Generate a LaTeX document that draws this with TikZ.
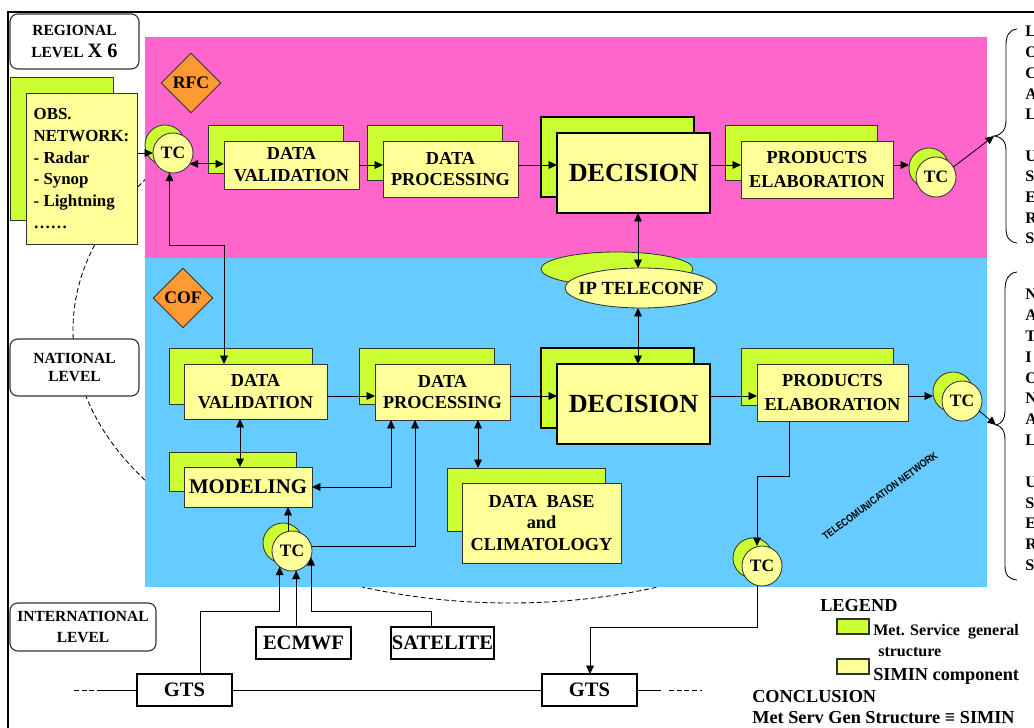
\documentclass[tikz,border=0pt]{standalone}
\usepackage{fontspec}
\setmainfont{Liberation Serif}
\newfontfamily\arialf{Liberation Sans}
\usetikzlibrary{arrows.meta,shapes.geometric}
\definecolor{lime}{HTML}{CCFF33}
\definecolor{paley}{HTML}{FFFF99}
\definecolor{pinkbg}{HTML}{FF66CC}
\definecolor{bluebg}{HTML}{66CCFF}
\definecolor{orng}{HTML}{FF9933}
\definecolor{edge}{HTML}{333333}
\newcommand\fsz[2]{\fontsize{#1}{#2}\selectfont\bfseries}
\newcommand\rnode[6]{\node[#1,minimum width={(#5-#3)*0.025cm},minimum height={(#6-#4)*0.025cm}] (#2) at ({(#3+#5)/2},{(#4+#6)/2})}
\tikzset{
  gb/.style={draw=edge, fill=lime, line width=0.6pt, inner sep=0pt, outer sep=0pt},
  yb/.style={draw=edge, fill=paley, line width=0.6pt, inner sep=0pt, outer sep=0pt, align=center, font=\fsz{13pt}{15.5pt}},
  thickb/.style={draw=black, line width=2pt},
  cb/.style={circle, draw=edge, fill=lime, line width=0.6pt, minimum size=1cm, inner sep=0pt, outer sep=0pt},
  cy/.style={circle, draw=edge, fill=paley, line width=0.6pt, minimum size=1cm, inner sep=0pt, outer sep=0pt, font=\fsz{12.4pt}{14pt}},
  wb/.style={draw=black, fill=white, line width=0.8pt, inner sep=0pt, outer sep=0pt, font=\fsz{14.6pt}{16pt}},
  lvl/.style={draw=black!80, fill=white, rounded corners=5.5pt, line width=0.8pt, align=center, inner sep=0pt},
  dia/.style={diamond, draw=edge, fill=orng, line width=0.6pt, minimum width=1.5cm, minimum height=1.5cm, inner sep=0pt, font=\fsz{12.6pt}{14pt}},
  arr/.style={-{Triangle[length=6pt,width=5.5pt]}, line width=0.6pt, draw=black},
  darr/.style={{Triangle[length=6pt,width=5.5pt]}-{Triangle[length=6pt,width=5.5pt]}, line width=0.6pt, draw=black},
  dashln/.style={dash pattern=on 3.5pt off 2pt, line width=0.6pt},
  txt/.style={inner sep=0pt, anchor=base west}
}
\begin{document}
\begin{tikzpicture}[x=0.025cm,y=-0.025cm]
\useasboundingbox (0,0) rectangle (1034,728);
% national dashed outline
\draw[dashln] (510,330) ellipse [x radius=437, y radius=273];
% panels
\fill[pinkbg] (145,37) rectangle (987,258);
\fill[bluebg] (145,258) rectangle (987,587);
% frame
\draw[line width=1.4pt] (8,728) -- (8,12) -- (1034,12);
% level labels
\rnode{lvl,font=\fsz{11pt}{16pt}}{reg}{10}{14}{139}{69}{REGIONAL\\LEVEL {\fontsize{14.5pt}{16pt}\selectfont X 6}};
\rnode{lvl,font=\fsz{11pt}{13.5pt}}{nat}{10}{339}{139}{396}{NATIONAL\\LEVEL};
\rnode{lvl,font=\fsz{11pt}{15pt}}{intl}{10}{603}{156}{651}{INTERNATIONAL\\LEVEL};
% obs network
\rnode{gb}{obsb}{10}{77}{113}{220}{};
\rnode{yb,align=left,font=\fsz{12pt}{15.4pt}}{obs}{26}{93}{137}{244}{OBS.\\NETWORK:\\- Radar\\- Synop\\- Lightning\\……};
% diamonds
\node[dia] (rfc) at (191,83) {RFC};
\node[dia] (cof) at (183,298) {COF};
% regional chain
\rnode{gb}{rdvb}{208}{125}{343}{173}{};
\rnode{yb}{rdv}{224}{141}{359}{189}{DATA\\VALIDATION};
\rnode{gb}{rdpb}{367}{125}{502}{180}{};
\rnode{yb}{rdp}{383}{141}{518}{197}{DATA\\PROCESSING};
\rnode{gb,thickb}{rdecb}{541}{117}{694}{197}{};
\rnode{yb,thickb,font=\fsz{18.6pt}{20pt}}{rdec}{557}{133}{710}{213}{DECISION};
\rnode{gb}{rpeb}{725}{125}{877}{180}{};
\rnode{yb,font=\fsz{13pt}{16.5pt}}{rpe}{741}{141}{893}{198}{PRODUCTS\\ELABORATION};
% national chain
\rnode{gb}{ndvb}{169}{348}{312}{404}{};
\rnode{yb}{ndv}{184}{364}{327}{419}{DATA\\VALIDATION};
\rnode{gb}{ndpb}{359}{348}{494}{404}{};
\rnode{yb}{ndp}{375}{364}{510}{420}{DATA\\PROCESSING};
\rnode{gb,thickb}{ndecb}{541}{348}{694}{428}{};
\rnode{yb,thickb,font=\fsz{18.6pt}{20pt}}{ndec}{557}{364}{710}{444}{DECISION};
\rnode{gb}{npeb}{741}{348}{893}{405}{};
\rnode{yb,font=\fsz{13pt}{16.5pt}}{npe}{757}{364}{908}{421}{PRODUCTS\\ELABORATION};
\rnode{gb}{modb}{169}{452}{296}{491}{};
\rnode{yb,font=\fsz{14.8pt}{16pt}}{mod}{184}{467}{312}{507}{MODELING};
\rnode{gb}{ndbb}{447}{468}{605}{531}{};
\rnode{yb,font=\fsz{13pt}{15.6pt}}{ndb}{462}{483}{621}{563}{DATA\ \ BASE\\and\\CLIMATOLOGY};
% IP teleconf
\node[ellipse, gb, minimum width=3.8cm, minimum height=0.85cm] (ipb) at (617,269) {};
\node[ellipse, yb, minimum width=3.8cm, minimum height=1cm, font=\fsz{13.2pt}{15pt}] (ip) at (641,288) {\makebox[0pt]{IP TELECONF}};
% TC circles
\node[cb] (tc1b) at (165,145) {}; \node[cy] (tc1) at (173,153) {TC};
\node[cb] (tc2b) at (929,168) {}; \node[cy] (tc2) at (936,177) {TC};
\node[cb] (ntcb) at (953,392) {}; \node[cy] (ntc) at (962,401) {TC};
\node[cb] (tc3b) at (753,558) {}; \node[cy] (tc3) at (762,566) {TC};
\node[cb] (tc4b) at (283,543) {}; \node[cy] (tc4) at (292,551) {TC};
% international boxes
\rnode{wb}{ecm}{256}{627}{351}{659}{ECMWF};
\rnode{wb}{sat}{391}{627}{494}{659}{SATELITE};
\rnode{wb}{gts1}{137}{674}{232}{706}{GTS};
\rnode{wb}{gts2}{542}{674}{637}{706}{GTS};
% helper coordinates
\coordinate (k10) at (224,245);
\coordinate (xip) at (638,0);
\coordinate (ny) at (0,396);
\coordinate (xa) at (240,0);
\coordinate (xb) at (391,0);
\coordinate (xc) at (288,0);
\coordinate (xd) at (415,0);
\coordinate (xe) at (478,0);
\coordinate (k1) at (789,476);
\coordinate (k2) at (757,476);
\coordinate (k3) at (757,627);
\coordinate (k4) at (590,627);
\coordinate (k5) at (200,611);
\coordinate (k8) at (431,611);
\coordinate (br1) at (994,136);
\coordinate (br2) at (996,425);
\coordinate (l1) at (102,690);
\coordinate (l2) at (73,690);
\coordinate (r1) at (661,690);
\coordinate (r2) at (669,690);
\coordinate (r3) at (702,690);
% regional connectors
\draw[arr] (obs.east |- tc1.west) -- (tc1.west);
\draw[darr] (tc1.-33) -- (tc1.-33 -| rdv.west);
\draw[arr] (rdv.east) -- (rdv.east -| rdp.west);
\draw[arr] (rdp.east |- rdv.east) -- (rdv.east -| rdec.west);
\draw[arr] (rdec.east |- rdv.east) -- (rdv.east -| rpe.west);
\draw[arr] (rpe.east |- rdv.east) -- (rdv.east -| tc2b.west);
\draw[arr] (tc2.30) -- (br1);
\draw[darr] (tc1.-100) -- (tc1.-100 |- k10) -- (k10) -- (k10 |- ndv.north);
\draw[darr] (rdec.south -| xip) -- (ip.north -| xip);
\draw[darr] (ip.south -| xip) -- (ndec.north -| xip);
% national connectors
\draw[arr] (ndv.east |- ny) -- (ndp.west |- ny);
\draw[arr] (ndp.east |- ny) -- (ndec.west |- ny);
\draw[arr] (ndec.east |- ny) -- (npe.west |- ny);
\draw[arr] (npe.east |- ny) -- (ntcb.west |- ny);
\draw[arr] (ntc.-30) -- (br2);
\draw[darr] (ndv.south -| xa) -- (mod.north -| xa);
\draw[darr] (ndp.south -| xb) |- (mod.east);
\draw[arr] (tc4.north -| xc) -- (mod.south -| xc);
\draw[arr] (tc4.12) -| (ndp.south -| xd);
\draw[darr] (ndp.south -| xe) -- (ndbb.north -| xe);
\draw[arr] (npe.south -| k1) -- (k1) -- (k2) -- (k2 |- tc3.north);
% international connectors
\draw[arr] (tc3.south -| k3) -- (k3) -- (k4) -- (k4 |- gts2.north);
\draw[arr] (k5 |- gts1.north) -- (k5) -- (k5 -| tc4.-128) -- (tc4.-128);
\draw[arr] (ecm.north -| tc4.-78) -- (tc4.-78);
\draw[arr] (k8 |- sat.north) -- (k8) -- (k8 -| tc4.-18) -- (tc4.-18);
\draw[line width=0.6pt] (gts1.east) -- (gts2.west);
\draw[line width=0.6pt] (gts1.west) -- (l1);
\draw[dashln] (l1) -- (l2);
\draw[line width=0.6pt] (gts2.east) -- (r1);
\draw[dashln] (r2) -- (r3);
% braces
\draw[line width=0.6pt] (1017,29) .. controls (1009,30) and (1006,36) .. (1006,45) -- (1006,120) .. controls (1006,130) and (1002,135) .. (br1) .. controls (1002,137) and (1006,141) .. (1006,151) -- (1006,228) .. controls (1006,237) and (1009,242) .. (1017,243);
\draw[line width=0.6pt] (1017,272) .. controls (1008,273) and (1005,280) .. (1005,290) -- (1005,410) .. controls (1005,420) and (1001,424) .. (br2) .. controls (1001,426) and (1005,430) .. (1005,440) -- (1005,565) .. controls (1005,575) and (1008,579) .. (1017,580);
\foreach \ch [count=\i from 0] in {L,O,C,A,L,{},U,S,E,R,S}
  \node[txt, font=\fsz{11.5pt}{14pt}] (lu\i) at (1025,{37+\i*20.7}) {\ch};
\foreach \ch [count=\i from 0] in {N,A,T,I,O,N,A,L,{},U,S,E,R,S}
  \node[txt, font=\fsz{11.5pt}{14pt}] (nu\i) at (1025,{300+\i*20.8}) {\ch};
% telecommunication label
\node[rotate=36.5, inner sep=0pt, font=\arialf\bfseries\fontsize{7.5pt}{8pt}\selectfont] (tnet) at (880,496) {\scalebox{0.84}[1]{TELECOMUNICATION NETWORK}};
% legend
\node[txt, font=\fsz{13pt}{15pt}] (leg) at (820,611) {LEGEND};
\rnode{gb,line width=0.8pt}{sw1}{837}{619}{869}{634}{};
\node[txt, font=\fsz{11.4pt}{13pt}] (lt1) at (873,635) {Met. Service\ \ general};
\node[txt, font=\fsz{11.4pt}{13pt}] (lt2) at (878,656) {structure};
\rnode{yb,line width=0.8pt}{sw2}{837}{659}{869}{674}{};
\node[txt, font=\fsz{13pt}{15pt}] (lt3) at (873,680) {SIMIN component};
\node[txt, font=\fsz{13pt}{15pt}] (conc) at (752,702) {CONCLUSION};
\node[txt, font=\fsz{13pt}{15pt}] (conc2) at (752,723) {Met Serv Gen Structure ≡ SIMIN};
\end{tikzpicture}
\end{document}
